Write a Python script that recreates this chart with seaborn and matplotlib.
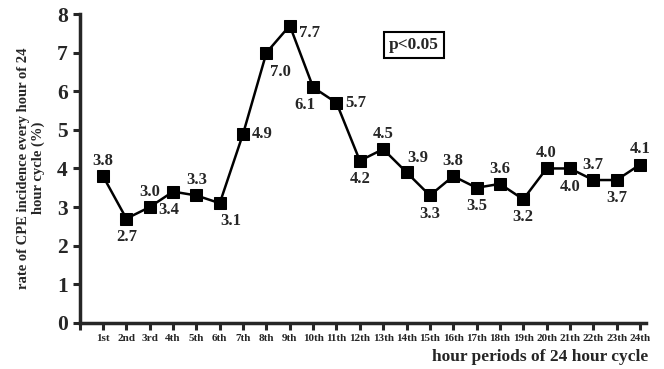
import pandas as pd
import matplotlib.pyplot as plt
import seaborn as sns

# hour periods and CPE incidence rate (%)
hours = list(range(1, 25))
hour_labels = ["1st", "2nd", "3rd"] + [f"{h}th" for h in range(4, 21)] + \
    ["21th", "22th", "23th", "24th"]
rates = [3.8, 2.7, 3.0, 3.4, 3.3, 3.1, 4.9, 7.0, 7.7, 6.1, 5.7, 4.2,
         4.5, 3.9, 3.3, 3.8, 3.5, 3.6, 3.2, 4.0, 4.0, 3.7, 3.7, 4.1]

# label placement (points) for each value label
label_dx = [0, 0, 0, -3, 0, 8, 14, 10, 14, -6, 14, 0,
            0, 8, 0, 0, 0, 0, 0, 0, 0, 0, 0, 0]
label_dy = [11, -13, 11, -13, 11, -13, 0, -14, -5, -13, 0, -13,
            11, 10, -13, 11, -13, 11, -13, 11, -13, 11, -13, 11]

df = pd.DataFrame({"hour": hours, "rate": rates})

sns.set_style("ticks")
plt.rcParams["font.family"] = ["Liberation Serif", "DejaVu Serif"]
plt.rcParams["font.weight"] = "bold"

fig = plt.figure(figsize=(6.64, 3.69), dpi=100)
ax = fig.add_axes([0.12, 0.125, 0.853, 0.837])

sns.lineplot(data=df, x="hour", y="rate", ax=ax, color="black",
             marker="s", markersize=8.5, linewidth=1.8, markeredgecolor="black")

for x, y, dx, dy in zip(hours, rates, label_dx, label_dy):
    ax.annotate(f"{y:.1f}", (x, y), xytext=(dx, dy), textcoords="offset points",
                ha="center", va="center", fontsize=12, fontweight="bold")

ax.set_xlim(0, 24.26)
ax.set_ylim(0, 8)
ax.set_xticks([0] + hours)
ax.set_xticklabels([""] + hour_labels, fontsize=8, fontweight="bold")
ax.set_yticks(range(0, 9))
ax.set_yticklabels([str(v) for v in range(0, 9)], fontsize=15.5, fontweight="bold")
ax.tick_params(axis="both", direction="out", length=5, width=2.2)
ax.tick_params(axis="x", pad=3)

for side in ["top", "right"]:
    ax.spines[side].set_visible(False)
for side in ["left", "bottom"]:
    ax.spines[side].set_linewidth(2.5)

ax.set_xlabel("")
ax.set_ylabel("")
fig.text(0.976, 0.032, "hour periods of 24 hour cycle", ha="right", va="center",
         fontsize=12.5, fontweight="bold")
fig.text(0.047, 0.545, "rate of CPE incidence every hour of 24\nhour cycle (%)",
         ha="center", va="center", rotation=90, fontsize=10.5,
         fontweight="bold", linespacing=1.2)

ax.text(0.59, 0.90, "p<0.05", transform=ax.transAxes, ha="center", va="center",
        fontsize=12.5, fontweight="bold",
        bbox=dict(boxstyle="square,pad=0.3", facecolor="white",
                  edgecolor="black", linewidth=1.5))

fig.savefig("out.png", dpi=100)
